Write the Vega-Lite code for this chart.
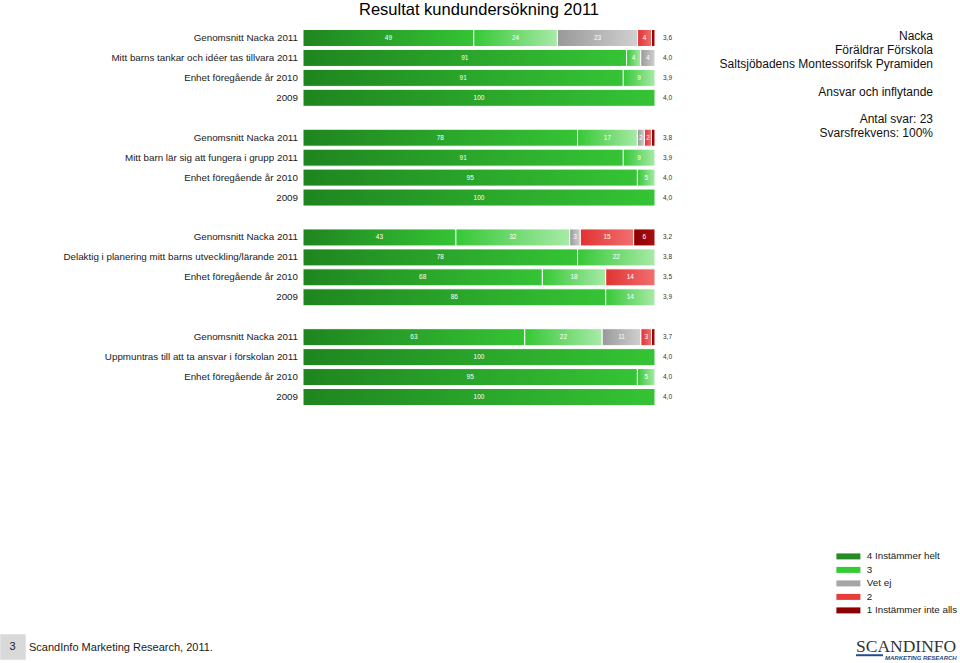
{
  "$schema": "https://vega.github.io/schema/vega-lite/v6.json",
  "autosize": "none",
  "width": 352,
  "height": 379,
  "padding": {"left": 303, "top": 28, "right": 305, "bottom": 256},
  "title": {
    "text": "Resultat kundundersökning 2011",
    "fontSize": 16.5,
    "fontWeight": "normal",
    "font": "Liberation Sans",
    "color": "#000000",
    "anchor": "middle",
    "frame": "group",
    "baseline": "alphabetic",
    "offset": -3.5
  },
  "config": {
    "view": {"stroke": null},
    "font": "Liberation Sans"
  },
  "datasets": {
    "seg": [
      {"row": "1a", "cat": "4 Instämmer helt", "k": 1, "pct": 49},
      {"row": "1a", "cat": "3", "k": 2, "pct": 24},
      {"row": "1a", "cat": "Vet ej", "k": 3, "pct": 23},
      {"row": "1a", "cat": "2", "k": 4, "pct": 4},
      {"row": "1a", "cat": "1 Instämmer inte alls", "k": 5, "pct": 1},
      {"row": "1b", "cat": "4 Instämmer helt", "k": 1, "pct": 91},
      {"row": "1b", "cat": "3", "k": 2, "pct": 4},
      {"row": "1b", "cat": "Vet ej", "k": 3, "pct": 4},
      {"row": "1c", "cat": "4 Instämmer helt", "k": 1, "pct": 91},
      {"row": "1c", "cat": "3", "k": 2, "pct": 9},
      {"row": "1d", "cat": "4 Instämmer helt", "k": 1, "pct": 100},
      {"row": "2a", "cat": "4 Instämmer helt", "k": 1, "pct": 78},
      {"row": "2a", "cat": "3", "k": 2, "pct": 17},
      {"row": "2a", "cat": "Vet ej", "k": 3, "pct": 2},
      {"row": "2a", "cat": "2", "k": 4, "pct": 2},
      {"row": "2a", "cat": "1 Instämmer inte alls", "k": 5, "pct": 1},
      {"row": "2b", "cat": "4 Instämmer helt", "k": 1, "pct": 91},
      {"row": "2b", "cat": "3", "k": 2, "pct": 9},
      {"row": "2c", "cat": "4 Instämmer helt", "k": 1, "pct": 95},
      {"row": "2c", "cat": "3", "k": 2, "pct": 5},
      {"row": "2d", "cat": "4 Instämmer helt", "k": 1, "pct": 100},
      {"row": "3a", "cat": "4 Instämmer helt", "k": 1, "pct": 43},
      {"row": "3a", "cat": "3", "k": 2, "pct": 32},
      {"row": "3a", "cat": "Vet ej", "k": 3, "pct": 3},
      {"row": "3a", "cat": "2", "k": 4, "pct": 15},
      {"row": "3a", "cat": "1 Instämmer inte alls", "k": 5, "pct": 6},
      {"row": "3b", "cat": "4 Instämmer helt", "k": 1, "pct": 78},
      {"row": "3b", "cat": "3", "k": 2, "pct": 22},
      {"row": "3c", "cat": "4 Instämmer helt", "k": 1, "pct": 68},
      {"row": "3c", "cat": "3", "k": 2, "pct": 18},
      {"row": "3c", "cat": "2", "k": 4, "pct": 14},
      {"row": "3d", "cat": "4 Instämmer helt", "k": 1, "pct": 86},
      {"row": "3d", "cat": "3", "k": 2, "pct": 14},
      {"row": "4a", "cat": "4 Instämmer helt", "k": 1, "pct": 63},
      {"row": "4a", "cat": "3", "k": 2, "pct": 22},
      {"row": "4a", "cat": "Vet ej", "k": 3, "pct": 11},
      {"row": "4a", "cat": "2", "k": 4, "pct": 3},
      {"row": "4a", "cat": "1 Instämmer inte alls", "k": 5, "pct": 1},
      {"row": "4b", "cat": "4 Instämmer helt", "k": 1, "pct": 100},
      {"row": "4c", "cat": "4 Instämmer helt", "k": 1, "pct": 95},
      {"row": "4c", "cat": "3", "k": 2, "pct": 5},
      {"row": "4d", "cat": "4 Instämmer helt", "k": 1, "pct": 100}
    ],
    "rows": [
      {"row": "1a", "label": "Genomsnitt Nacka 2011", "avg": "3,6"},
      {"row": "1b", "label": "Mitt barns tankar och idéer tas tillvara 2011", "avg": "4,0"},
      {"row": "1c", "label": "Enhet föregående år 2010", "avg": "3,9"},
      {"row": "1d", "label": "2009", "avg": "4,0"},
      {"row": "2a", "label": "Genomsnitt Nacka 2011", "avg": "3,8"},
      {"row": "2b", "label": "Mitt barn lär sig att fungera i grupp 2011", "avg": "3,9"},
      {"row": "2c", "label": "Enhet föregående år 2010", "avg": "4,0"},
      {"row": "2d", "label": "2009", "avg": "4,0"},
      {"row": "3a", "label": "Genomsnitt Nacka 2011", "avg": "3,2"},
      {"row": "3b", "label": "Delaktig i planering mitt barns utveckling/lärande 2011", "avg": "3,8"},
      {"row": "3c", "label": "Enhet föregående år 2010", "avg": "3,5"},
      {"row": "3d", "label": "2009", "avg": "3,9"},
      {"row": "4a", "label": "Genomsnitt Nacka 2011", "avg": "3,7"},
      {"row": "4b", "label": "Uppmuntras till att ta ansvar i förskolan 2011", "avg": "4,0"},
      {"row": "4c", "label": "Enhet föregående år 2010", "avg": "4,0"},
      {"row": "4d", "label": "2009", "avg": "4,0"}
    ],
    "info": [
      {"part": "unit", "lines": ["Nacka", "Föräldrar Förskola", "Saltsjöbadens Montessorifsk Pyramiden"]},
      {"part": "area", "lines": ["Ansvar och inflytande"]},
      {"part": "count", "lines": ["Antal svar: 23", "Svarsfrekvens: 100%"]}
    ],
    "footer": [
      {"page": "3", "source": "ScandInfo Marketing Research, 2011.", "logo": "SCANDINFO", "tag": "MARKETING RESEARCH"}
    ]
  },
  "layer": [
    {
      "data": {"name": "seg"},
      "mark": {"type": "bar", "stroke": "#ffffff", "strokeWidth": 1},
      "encoding": {
        "y": {
          "field": "row",
          "type": "nominal",
          "sort": null,
          "scale": {
            "domain": ["1a", "1b", "1c", "1d", "gap1", "2a", "2b", "2c", "2d", "gap2", "3a", "3b", "3c", "3d", "gap3", "4a", "4b", "4c", "4d"],
            "paddingInner": 0.147,
            "paddingOuter": 0.0735
          },
          "axis": null
        },
        "x": {
          "field": "pct",
          "type": "quantitative",
          "stack": "normalize",
          "scale": {"domain": [0, 1]},
          "axis": null
        },
        "order": {"field": "k", "type": "quantitative"},
        "detail": {"field": "cat", "type": "nominal"},
        "fill": {
          "condition": [
            {"test": "datum.k === 1", "value": {"gradient": "linear", "x1": 0, "y1": 0, "x2": 1, "y2": 0, "stops": [{"offset": 0, "color": "#1f851f"}, {"offset": 1, "color": "#35c435"}]}},
            {"test": "datum.k === 2", "value": {"gradient": "linear", "x1": 0, "y1": 0, "x2": 1, "y2": 0, "stops": [{"offset": 0, "color": "#36c836"}, {"offset": 1, "color": "#a8eaa8"}]}},
            {"test": "datum.k === 3", "value": {"gradient": "linear", "x1": 0, "y1": 0, "x2": 1, "y2": 0, "stops": [{"offset": 0, "color": "#999999"}, {"offset": 1, "color": "#d0d0d0"}]}},
            {"test": "datum.k === 4", "value": {"gradient": "linear", "x1": 0, "y1": 0, "x2": 1, "y2": 0, "stops": [{"offset": 0, "color": "#e23232"}, {"offset": 1, "color": "#f07070"}]}}
          ],
          "value": {"gradient": "linear", "x1": 0, "y1": 0, "x2": 1, "y2": 0, "stops": [{"offset": 0, "color": "#8b0000"}, {"offset": 1, "color": "#a81010"}]}
        }
      }
    },
    {
      "data": {"name": "seg"},
      "transform": [{"filter": "false"}],
      "mark": {"type": "bar"},
      "encoding": {
        "y": {"field": "row", "type": "nominal", "axis": null},
        "x": {"field": "pct", "type": "quantitative", "stack": "normalize", "scale": {"domain": [0, 1]}, "axis": null},
        "order": {"field": "k", "type": "quantitative"},
        "color": {
          "field": "cat",
          "type": "nominal",
          "scale": {
            "domain": ["4 Instämmer helt", "3", "Vet ej", "2", "1 Instämmer inte alls"],
            "range": ["#278a27", "#33cc33", "#a6a6a6", "#e83c3c", "#8b0000"]
          },
          "legend": {
            "title": null,
            "orient": "none",
            "legendX": 540.5,
            "legendY": 523.5,
            "symbolType": "M-3,-0.75H3V0.75H-3Z",
            "symbolSize": 64,
            "symbolStrokeWidth": 0,
            "labelFontSize": 9.8,
            "labelFont": "Liberation Sans",
            "labelColor": "#1a1a1a",
            "labelOffset": 13.5,
            "rowPadding": 2.5
          }
        }
      }
    },
    {
      "data": {"name": "seg"},
      "mark": {"type": "text", "color": "#ffffff", "fontSize": 6.5, "baseline": "middle", "align": "center"},
      "encoding": {
        "y": {"field": "row", "type": "nominal", "axis": null},
        "x": {"field": "pct", "type": "quantitative", "stack": "normalize", "bandPosition": 0.5, "scale": {"domain": [0, 1]}, "axis": null},
        "order": {"field": "k", "type": "quantitative"},
        "detail": {"field": "cat", "type": "nominal"},
        "text": {"condition": {"test": "datum.pct < 2", "value": ""}, "field": "pct", "type": "quantitative"}
      }
    },
    {
      "data": {"name": "rows"},
      "mark": {"type": "text", "color": "#1a1a1a", "fontSize": 9.8, "baseline": "middle", "align": "right", "dx": -5},
      "encoding": {
        "y": {"field": "row", "type": "nominal", "axis": null},
        "x": {"datum": 0, "type": "quantitative", "scale": {"domain": [0, 1]}, "axis": null},
        "text": {"field": "label", "type": "nominal"}
      }
    },
    {
      "data": {"name": "rows"},
      "mark": {"type": "text", "color": "#333333", "fontSize": 6.5, "baseline": "middle", "align": "left", "dx": 8},
      "encoding": {
        "y": {"field": "row", "type": "nominal", "axis": null},
        "x": {"datum": 1, "type": "quantitative", "scale": {"domain": [0, 1]}, "axis": null},
        "text": {"field": "avg", "type": "nominal"}
      }
    },
    {
      "data": {"name": "info"},
      "transform": [{"filter": "datum.part === 'unit'"}],
      "mark": {"type": "text", "color": "#111111", "fontSize": 12, "lineHeight": 13.8, "baseline": "alphabetic", "align": "right", "dy": 2.3},
      "encoding": {
        "y": {"datum": "1a", "type": "nominal", "axis": null},
        "x": {"datum": 1.7898, "type": "quantitative", "scale": {"domain": [0, 1]}, "axis": null},
        "text": {"field": "lines", "type": "nominal"}
      }
    },
    {
      "data": {"name": "info"},
      "transform": [{"filter": "datum.part === 'area'"}],
      "mark": {"type": "text", "color": "#111111", "fontSize": 12, "lineHeight": 13.8, "baseline": "alphabetic", "align": "right", "dy": -1.9},
      "encoding": {
        "y": {"datum": "1d", "type": "nominal", "axis": null},
        "x": {"datum": 1.7898, "type": "quantitative", "scale": {"domain": [0, 1]}, "axis": null},
        "text": {"field": "lines", "type": "nominal"}
      }
    },
    {
      "data": {"name": "info"},
      "transform": [{"filter": "datum.part === 'count'"}],
      "mark": {"type": "text", "color": "#111111", "fontSize": 12, "lineHeight": 13.3, "baseline": "alphabetic", "align": "right", "dy": 5.7},
      "encoding": {
        "y": {"datum": "gap1", "type": "nominal", "axis": null},
        "x": {"datum": 1.7898, "type": "quantitative", "scale": {"domain": [0, 1]}, "axis": null},
        "text": {"field": "lines", "type": "nominal"}
      }
    },
    {
      "data": {"name": "footer"},
      "mark": {"type": "point", "shape": "square", "filled": true, "size": 650, "opacity": 1, "color": "#d9d9d9", "yOffset": 250},
      "encoding": {
        "y": {"datum": "4d", "type": "nominal", "axis": null},
        "x": {"datum": -0.8239, "type": "quantitative", "scale": {"domain": [0, 1]}, "axis": null}
      }
    },
    {
      "data": {"name": "footer"},
      "mark": {"type": "text", "color": "#1a1a1a", "fontSize": 11, "baseline": "middle", "align": "center", "dy": 250},
      "encoding": {
        "y": {"datum": "4d", "type": "nominal", "axis": null},
        "x": {"datum": -0.8253, "type": "quantitative", "scale": {"domain": [0, 1]}, "axis": null},
        "text": {"field": "page", "type": "nominal"}
      }
    },
    {
      "data": {"name": "footer"},
      "mark": {"type": "text", "color": "#1a1a1a", "fontSize": 11, "baseline": "alphabetic", "align": "left", "dy": 253.5},
      "encoding": {
        "y": {"datum": "4d", "type": "nominal", "axis": null},
        "x": {"datum": -0.7784, "type": "quantitative", "scale": {"domain": [0, 1]}, "axis": null},
        "text": {"field": "source", "type": "nominal"}
      }
    },
    {
      "data": {"name": "footer"},
      "mark": {"type": "text", "color": "#333333", "font": "Liberation Serif", "fontSize": 17.5, "baseline": "alphabetic", "align": "left", "dy": 254.5},
      "encoding": {
        "y": {"datum": "4d", "type": "nominal", "axis": null},
        "x": {"datum": 1.571, "type": "quantitative", "scale": {"domain": [0, 1]}, "axis": null},
        "text": {"field": "logo", "type": "nominal"}
      }
    },
    {
      "data": {"name": "footer"},
      "mark": {"type": "rule", "color": "#1f4e8c", "strokeWidth": 2, "yOffset": 258.2},
      "encoding": {
        "y": {"datum": "4d", "type": "nominal", "axis": null},
        "x": {"datum": 1.571, "type": "quantitative", "scale": {"domain": [0, 1]}, "axis": null},
        "x2": {"datum": 1.6477}
      }
    },
    {
      "data": {"name": "footer"},
      "mark": {"type": "text", "color": "#2a4a7f", "fontSize": 6, "fontStyle": "italic", "fontWeight": "bold", "baseline": "alphabetic", "align": "left", "dy": 263.3},
      "encoding": {
        "y": {"datum": "4d", "type": "nominal", "axis": null},
        "x": {"datum": 1.6534, "type": "quantitative", "scale": {"domain": [0, 1]}, "axis": null},
        "text": {"field": "tag", "type": "nominal"}
      }
    }
  ]
}
